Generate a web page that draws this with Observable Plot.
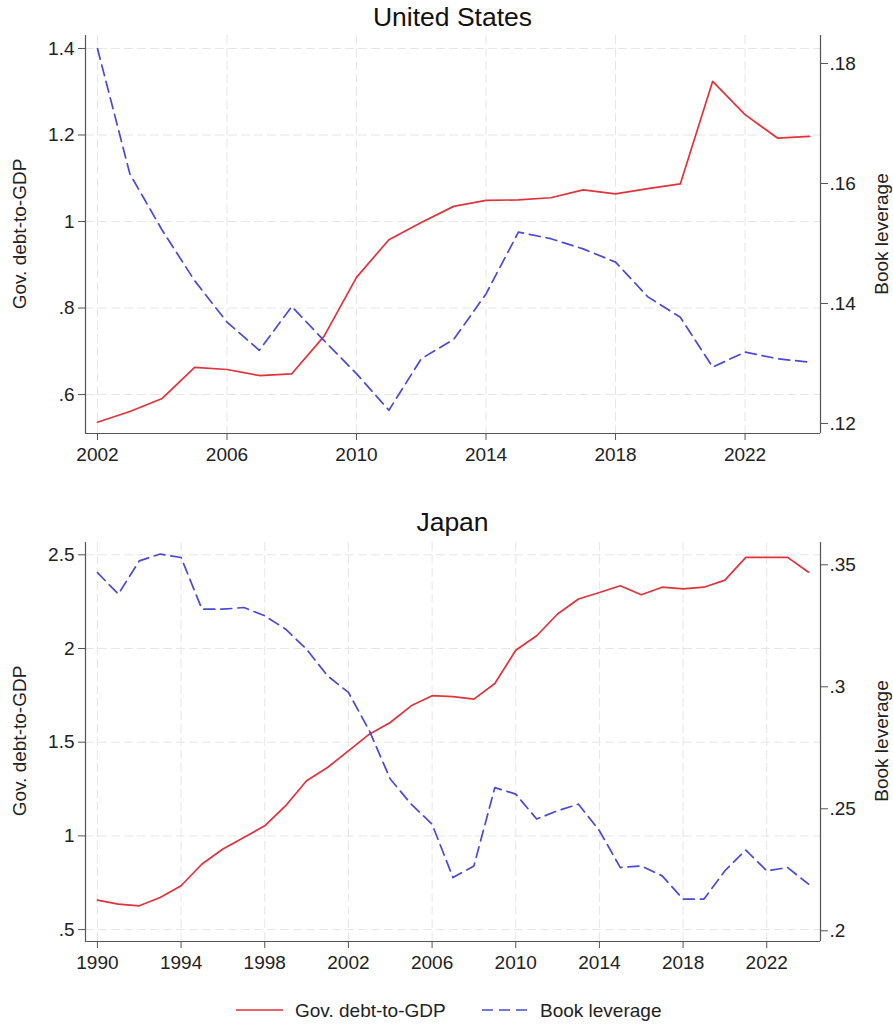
<!DOCTYPE html>
<html>
<head>
<meta charset="utf-8">
<script src="https://cdn.jsdelivr.net/npm/d3@7"></script>
<script src="https://cdn.jsdelivr.net/npm/@observablehq/plot@0.6"></script>
<style>
  html, body { margin: 0; padding: 0; background: #fff; }
  body { width: 893px; height: 1026px; position: relative; overflow: hidden;
         font-family: "Liberation Sans", Arial, Helvetica, sans-serif; color: #222; }
  .title { position: absolute; left: 85px; width: 735px; text-align: center; font-size: 26.5px; line-height: 30px; color: #111; }
  .ytitle { position: absolute; font-size: 19px; line-height: 22px; white-space: nowrap; transform: translate(-50%, -50%) rotate(-90deg); color: #222; }
  .legend { position: absolute; left: 0; top: 996px; width: 893px; height: 28px; }
</style>
</head>
<body>
<script>
// ---------- data ----------
const usYears = d3.range(2002, 2025);
const usDebt = [0.536,0.561,0.591,0.663,0.658,0.644,0.648,0.735,0.871,0.958,0.998,1.035,1.049,1.050,1.055,1.073,1.064,1.076,1.087,1.324,1.247,1.193,1.197];
const usLev  = [0.1825,0.1616,0.1522,0.1438,0.1369,0.1322,0.1395,0.1338,0.1283,0.1222,0.1308,0.1340,0.1416,0.1519,0.1508,0.1491,0.1469,0.1411,0.1377,0.1294,0.1319,0.1308,0.1302];

const jpYears = d3.range(1990, 2025);
const jpDebt = [0.657,0.636,0.627,0.671,0.734,0.850,0.930,0.991,1.054,1.161,1.294,1.365,1.454,1.543,1.605,1.694,1.748,
                1.743,1.730,1.813,1.991,2.068,2.184,2.264,2.299,2.335,2.287,2.327,2.318,2.327,2.365,2.486,2.486,2.486,2.407];
const jpLev  = [0.3468,0.3380,0.3516,0.3544,0.3530,0.3318,0.3318,0.3325,0.3291,0.3236,0.3154,0.3045,0.2977,0.2820,0.2622,0.2519,0.2437,
                0.2218,0.2266,0.2587,0.2560,0.2458,0.2492,0.2519,0.2410,0.2259,0.2266,0.2225,0.2130,0.2130,0.2246,0.2331,0.2246,0.2259,0.2191];

const usXTicks = [2002, 2006, 2010, 2014, 2018, 2022];
const usYTicks = [0.6, 0.8, 1, 1.2, 1.4];
const usRTicks = [0.12, 0.14, 0.16, 0.18];
const jpXTicks = [1990, 1994, 1998, 2002, 2006, 2010, 2014, 2018, 2022];
const jpYTicks = [0.5, 1, 1.5, 2, 2.5];
const jpRTicks = [0.2, 0.25, 0.3, 0.35];

const seriesNames = ["Gov. debt-to-GDP", "Book leverage"];
const panelTitles = ["United States", "Japan"];

// ---------- style ----------
const RED = "#e2323b";
const BLUE = "#4a4ad6";
const DASH = "11,6";
const AXIS = "#555";
const GRID = "#e6e6e6";

const stata = d => String(+(+d).toFixed(4)).replace(/^0\./, ".").replace(/^-0\./, "-.");

function panel({years, debt, lev, xDomain, yDomain, rDomain, xTicks, yTicks, rTicks, height, marginTop, marginBottom}) {
  const toLeft = d3.scaleLinear(rDomain, yDomain);
  const toRight = d3.scaleLinear(yDomain, rDomain);
  const dDebt = years.map((yr, i) => ({year: yr, v: debt[i]}));
  const dLev = years.map((yr, i) => ({year: yr, v: toLeft(lev[i])}));
  return Plot.plot({
    width: 893, height, marginLeft: 85, marginRight: 73, marginTop, marginBottom,
    style: {fontFamily: "'Liberation Sans', Arial, Helvetica, sans-serif", fontSize: "19px", color: "#222", background: "transparent", overflow: "visible"},
    x: {domain: xDomain},
    y: {domain: yDomain},
    marks: [
      Plot.gridX(xTicks, {stroke: GRID, strokeOpacity: 1, strokeDasharray: "9,4"}),
      Plot.gridY(yTicks, {stroke: GRID, strokeOpacity: 1, strokeDasharray: "9,4"}),
      Plot.ruleX([xDomain[0], xDomain[1]], {stroke: AXIS, strokeWidth: 1.2}),
      Plot.ruleY([yDomain[0]], {stroke: AXIS, strokeWidth: 1.2}),
      Plot.axisX(xTicks, {tickFormat: d => String(d), tickSize: 7, tickPadding: 7, stroke: AXIS, label: null}),
      Plot.axisY(yTicks, {anchor: "left", tickFormat: stata, tickSize: 7, tickPadding: 4, stroke: AXIS, label: null}),
      Plot.axisY(rTicks.map(toLeft), {anchor: "right", tickFormat: d => stata(toRight(d)), tickSize: 7, tickPadding: 2, stroke: AXIS, label: null}),
      Plot.line(dDebt, {x: "year", y: "v", stroke: RED, strokeWidth: 1.7}),
      Plot.line(dLev, {x: "year", y: "v", stroke: BLUE, strokeWidth: 1.7, strokeDasharray: DASH})
    ]
  });
}

function place(el, top) {
  el.style.position = "absolute";
  el.style.left = "0px";
  el.style.top = top + "px";
  document.body.appendChild(el);
}
function addText(cls, text, left, top) {
  const d = document.createElement("div");
  d.className = cls;
  d.textContent = text;
  if (left != null) d.style.left = left + "px";
  d.style.top = top + "px";
  document.body.appendChild(d);
  return d;
}

// United States panel
const us = panel({
  years: usYears, debt: usDebt, lev: usLev,
  xDomain: [2001.63, 2024.33], yDomain: [0.51, 1.43], rDomain: [0.11833, 0.18467],
  xTicks: usXTicks, yTicks: usYTicks, rTicks: usRTicks,
  height: 475, marginTop: 35, marginBottom: 42
});
place(us, 0);
addText("title", panelTitles[0], null, 2);
addText("ytitle", seriesNames[0], 20, 234);
addText("ytitle", seriesNames[1], 882, 234);

// Japan panel
const jp = panel({
  years: jpYears, debt: jpDebt, lev: jpLev,
  xDomain: [1989.43, 2024.57], yDomain: [0.4365, 2.5656], rDomain: [0.19561, 0.35914],
  xTicks: jpXTicks, yTicks: jpYTicks, rTicks: jpRTicks,
  height: 495, marginTop: 52, marginBottom: 44
});
place(jp, 490);
addText("title", panelTitles[1], null, 507);
addText("ytitle", seriesNames[0], 20, 741);
addText("ytitle", seriesNames[1], 882, 741);

// Legend
const leg = document.createElement("div");
leg.className = "legend";
leg.innerHTML = `
<svg width="893" height="28" style="position:absolute;left:0;top:0">
  <line x1="236" x2="283" y1="14" y2="14" stroke="${RED}" stroke-width="1.7"/>
  <text x="295" y="14" dy="0.35em" font-size="19" fill="#222" font-family="'Liberation Sans', Arial, sans-serif">${seriesNames[0]}</text>
  <line x1="482" x2="529" y1="14" y2="14" stroke="${BLUE}" stroke-width="1.7" stroke-dasharray="11,6"/>
  <text x="540" y="14" dy="0.35em" font-size="19" fill="#222" font-family="'Liberation Sans', Arial, sans-serif">${seriesNames[1]}</text>
</svg>`;
document.body.appendChild(leg);
</script>
</body>
</html>
